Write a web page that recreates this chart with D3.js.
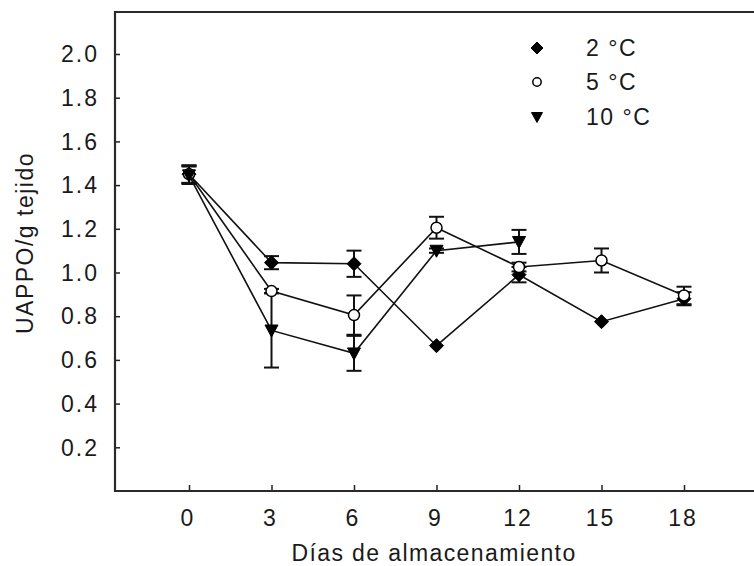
<!DOCTYPE html>
<html>
<head>
<meta charset="utf-8">
<script src="https://cdn.jsdelivr.net/npm/d3@7"></script>
<style>
  html, body { margin: 0; padding: 0; background: #fff; }
  svg { display: block; }
  text { font-family: "Liberation Sans", Arial, sans-serif; fill: #1a1a1a; }
</style>
</head>
<body>
<svg id="chart" width="754" height="566"></svg>
<script>
// Storage days and PPO activity (UAPPO/g tissue) per temperature
const days = [0, 3, 6, 9, 12, 15, 18];
const xTicks = [0, 3, 6, 9, 12, 15, 18];
const yTicks = [0.2, 0.4, 0.6, 0.8, 1.0, 1.2, 1.4, 1.6, 1.8, 2.0];

const seriesNames = ["2 °C", "5 °C", "10 °C"];

const mean2 = [1.45, 1.045, 1.04, 0.665, 0.99, 0.775, 0.88];
const err2  = [0.04, 0.03, 0.06, 0.0, 0.035, 0.0, 0.03];

const mean5 = [1.45, 0.915, 0.805, 1.205, 1.025, 1.055, 0.895];
const err5  = [0.04, 0.01, 0.09, 0.05, 0.02, 0.055, 0.04];

const days10 = [0, 3, 6, 9, 12];
const mean10 = [1.445, 0.735, 0.63, 1.10, 1.14];
const err10  = [0.04, 0.17, 0.08, 0.01, 0.055];

const svg = d3.select("#chart");

const frame = { left: 115, top: 12, bottom: 491, right: 754 };
const x = d3.scaleLinear().domain([0, 18]).range([189, 684]);
const y = d3.scaleLinear().domain([0, 2.0]).range([491, 54]);

// axes (ticks point into the plot area)
const yAxis = d3.axisRight(y).tickValues(yTicks).tickSize(5).tickFormat("");
const xAxis = d3.axisTop(x).tickValues(xTicks).tickSize(6).tickFormat("");

svg.append("g").attr("transform", `translate(${frame.left},0)`).call(yAxis)
  .call(g => g.select(".domain").remove())
  .call(g => g.selectAll("line").attr("stroke", "#222").attr("stroke-width", 1.5));
svg.append("g").attr("transform", `translate(0,${frame.bottom})`).call(xAxis)
  .call(g => g.select(".domain").remove())
  .call(g => g.selectAll("line").attr("stroke", "#222").attr("stroke-width", 1.5));

// frame: left, bottom and top edges
svg.append("path")
  .attr("d", `M${frame.right},${frame.top}H${frame.left}V${frame.bottom}H${frame.right}`)
  .attr("fill", "none").attr("stroke", "#2a2a2a").attr("stroke-width", 2.2);

// tick labels
svg.append("g").selectAll("text").data(yTicks).join("text")
  .attr("x", 99).attr("y", d => y(d)).attr("dy", "0.36em")
  .attr("text-anchor", "end")
  .style("font-size", "23px").style("letter-spacing", "2px")
  .text(d => d.toFixed(1));

svg.append("g").selectAll("text").data(xTicks).join("text")
  .attr("x", d => x(d) - 1).attr("y", 526)
  .attr("text-anchor", "middle")
  .style("font-size", "23px").style("letter-spacing", "2px")
  .text(d => d);

// axis titles
svg.append("text")
  .attr("x", 434).attr("y", 561).attr("text-anchor", "middle")
  .style("font-size", "23px").style("letter-spacing", "1.4px")
  .text("Días de almacenamiento");
svg.append("text")
  .attr("transform", "translate(33,243) rotate(-90)")
  .attr("text-anchor", "middle")
  .style("font-size", "23px").style("letter-spacing", "1.5px")
  .text("UAPPO/g tejido");

// marker shapes
function diamond(s) { return `M0,${-s}L${s},0L0,${s}L${-s},0Z`; }
function triDown(w, h) { return `M${-w},${-h * 0.45}L${w},${-h * 0.45}L0,${h * 0.55}Z`; }

const series = [
  { days: days, mean: mean2, err: err2, kind: "diamond" },
  { days: days, mean: mean5, err: err5, kind: "circle" },
  { days: days10, mean: mean10, err: err10, kind: "tri" }
].map(s => ({ ...s, pts: s.days.map((d, i) => ({ d, m: s.mean[i], e: s.err[i] })) }));

const line = d3.line().x(p => x(p.d)).y(p => y(p.m));

// connecting lines
svg.append("g").selectAll("path").data(series).join("path")
  .attr("d", s => line(s.pts))
  .attr("fill", "none").attr("stroke", "#111").attr("stroke-width", 1.6);

// error bars
const eb = svg.append("g").attr("stroke", "#111").attr("stroke-width", 2);
series.forEach(s => {
  s.pts.filter(p => p.e > 0).forEach(p => {
    const cx = x(p.d), y0 = y(p.m - p.e), y1 = y(p.m + p.e);
    eb.append("line").attr("x1", cx).attr("x2", cx).attr("y1", y0).attr("y2", y1);
    eb.append("line").attr("x1", cx - 7.5).attr("x2", cx + 7.5).attr("y1", y0).attr("y2", y0);
    eb.append("line").attr("x1", cx - 7.5).attr("x2", cx + 7.5).attr("y1", y1).attr("y2", y1);
  });
});

// markers
function drawMarker(g, kind, cx, cy, big) {
  if (kind === "diamond") {
    g.append("path").attr("d", diamond(big ? 7 : 6)).attr("transform", `translate(${cx},${cy})`)
      .attr("fill", "#000").attr("stroke", "#000").attr("stroke-width", 1).attr("stroke-linejoin", "round");
  } else if (kind === "circle") {
    g.append("circle").attr("cx", cx).attr("cy", cy).attr("r", big ? 5.5 : 4.2)
      .attr("fill", "#fff").attr("stroke", "#000").attr("stroke-width", 1.5);
  } else {
    g.append("path").attr("d", big ? triDown(6.5, 12) : triDown(5.5, 10)).attr("transform", `translate(${cx},${cy})`)
      .attr("fill", "#000").attr("stroke", "#000").attr("stroke-width", 1);
  }
}
const mk = svg.append("g");
series.forEach(s => s.pts.forEach(p => drawMarker(mk, s.kind, x(p.d), y(p.m), true)));

// legend
const legendY = [48, 82, 117];
const legend = svg.append("g");
series.forEach((s, i) => {
  drawMarker(legend, s.kind, 537, legendY[i], false);
  legend.append("text").attr("x", 586).attr("y", legendY[i]).attr("dy", "0.36em")
    .style("font-size", "23px").style("letter-spacing", "1.5px")
    .text(seriesNames[i]);
});
</script>
</body>
</html>
